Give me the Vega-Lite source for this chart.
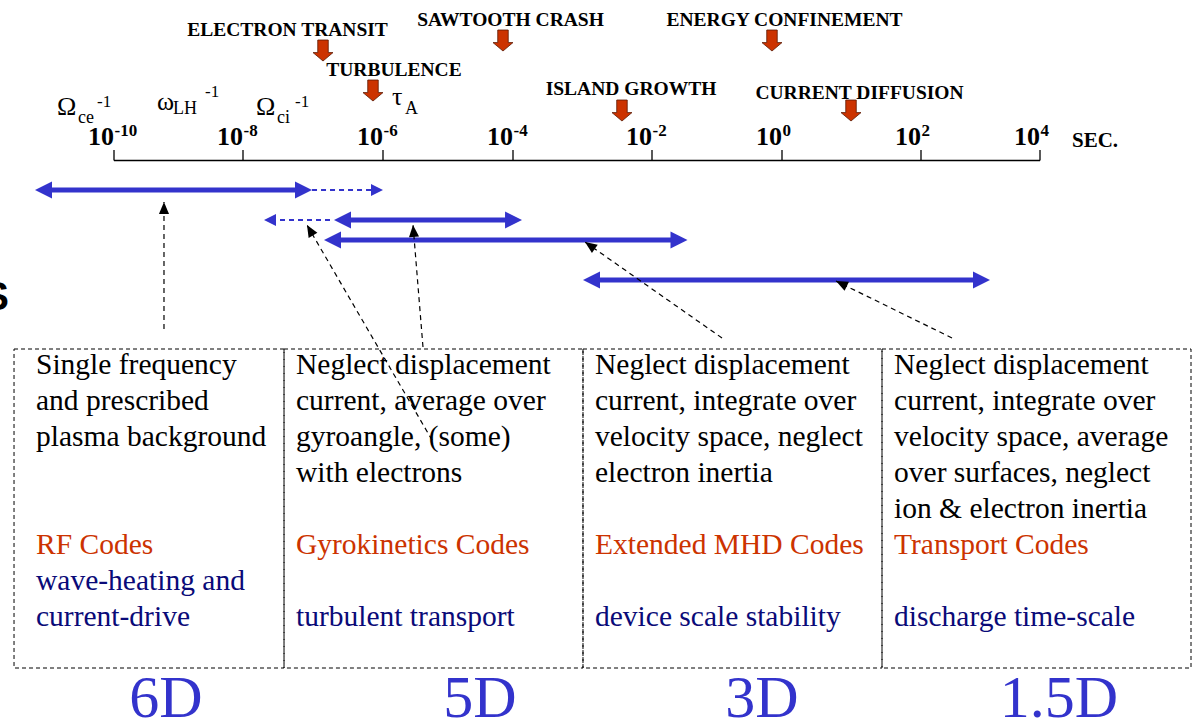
{
  "$schema": "https://vega.github.io/schema/vega-lite/v6.json",
  "width": 1195,
  "height": 722,
  "padding": 0,
  "autosize": {"type": "none"},
  "background": "white",
  "config": {"view": {"stroke": null}},
  "datasets": {
    "boxes": [
      {"x": -11.55, "x2": -7.414},
      {"x": -7.414, "x2": -2.993},
      {"x": -2.993, "x2": 1.439},
      {"x": 1.439, "x2": 6.538}
    ],
    "ticks": [
      {"x": -10, "base": "10", "sup": "-10"},
      {"x": -8, "base": "10", "sup": "-8"},
      {"x": -6, "base": "10", "sup": "-6"},
      {"x": -4, "base": "10", "sup": "-4"},
      {"x": -2, "base": "10", "sup": "-2"},
      {"x": 0, "base": "10", "sup": "0"},
      {"x": 2, "base": "10", "sup": "2"},
      {"x": 4, "base": "10", "sup": "4"}
    ],
    "unit": [{"x": 4.538, "y": 147, "text": "SEC."}],
    "events": [
      {"label": "ELECTRON TRANSIT", "lx": -7.364, "ly": 36, "ax": -6.857, "ay": 50.5},
      {"label": "TURBULENCE", "lx": -5.831, "ly": 76, "ax": -6.143, "ay": 90.5},
      {"label": "SAWTOOTH CRASH", "lx": -4.038, "ly": 26, "ax": -4.154, "ay": 40.5},
      {"label": "ENERGY CONFINEMENT", "lx": 0.036, "ly": 26, "ax": -0.154, "ay": 40.5},
      {"label": "ISLAND GROWTH", "lx": -2.302, "ly": 95, "ax": -2.432, "ay": 110.5},
      {"label": "CURRENT DIFFUSION", "lx": 1.115, "ly": 99, "ax": 0.993, "ay": 110.5}
    ],
    "greek": [
      {"x": -10.884, "y": 115, "text": "Ω", "role": "main"},
      {"x": -10.558, "y": 123, "text": "ce", "role": "sub"},
      {"x": -10.264, "y": 107, "text": "-1", "role": "sup"},
      {"x": -9.333, "y": 110, "text": "ω", "role": "main"},
      {"x": -9.085, "y": 114, "text": "LH", "role": "sub"},
      {"x": -8.589, "y": 97, "text": "-1", "role": "sup"},
      {"x": -7.814, "y": 115, "text": "Ω", "role": "main"},
      {"x": -7.514, "y": 123, "text": "ci", "role": "sub"},
      {"x": -7.257, "y": 107, "text": "-1", "role": "sup"},
      {"x": -5.862, "y": 105, "text": "τ", "role": "main"},
      {"x": -5.662, "y": 114, "text": "A", "role": "sub"}
    ],
    "blueLines": [
      {"x": -11.105, "x2": -7.134, "y": 190, "kind": "solid"},
      {"x": -6.58, "x2": -3.99, "y": 220, "kind": "solid"},
      {"x": -6.723, "x2": -1.574, "y": 240, "kind": "solid"},
      {"x": -2.873, "x2": 3.03, "y": 280, "kind": "solid"},
      {"x": -7.014, "x2": -6.1, "y": 190, "kind": "dashed"},
      {"x": -7.6, "x2": -6.7, "y": 220, "kind": "dashed"}
    ],
    "blueHeads": [
      {"x": -11.225, "y": 190, "dir": "L", "kind": "solid"},
      {"x": -7.014, "y": 190, "dir": "R", "kind": "solid"},
      {"x": -6.7, "y": 220, "dir": "L", "kind": "solid"},
      {"x": -3.87, "y": 220, "dir": "R", "kind": "solid"},
      {"x": -6.843, "y": 240, "dir": "L", "kind": "solid"},
      {"x": -1.454, "y": 240, "dir": "R", "kind": "solid"},
      {"x": -2.993, "y": 280, "dir": "L", "kind": "solid"},
      {"x": 3.16, "y": 280, "dir": "R", "kind": "solid"},
      {"x": -6.0, "y": 190, "dir": "R", "kind": "dashed"},
      {"x": -7.7, "y": 220, "dir": "L", "kind": "dashed"}
    ],
    "pointers": [
      {"tx": -9.225, "ty": 329, "hx": -9.225, "hy": 202, "angle": 0},
      {"tx": -5.246, "ty": 440, "hx": -7.086, "hy": 225, "angle": 329.8},
      {"tx": -5.385, "ty": 347, "hx": -5.538, "hy": 225, "angle": 355.3},
      {"tx": -0.923, "ty": 338, "hx": -2.964, "hy": 242, "angle": 305},
      {"tx": 2.521, "ty": 338, "hx": 0.777, "hy": 281, "angle": 296}
    ],
    "boxText": [
      {"x": -11.209, "y": 374, "text": "Single frequency", "c": "k"},
      {"x": -11.209, "y": 410, "text": "and prescribed", "c": "k"},
      {"x": -11.209, "y": 446, "text": "plasma background", "c": "k"},
      {"x": -11.209, "y": 554, "text": "RF Codes", "c": "o"},
      {"x": -11.209, "y": 590, "text": "wave-heating and", "c": "n"},
      {"x": -11.209, "y": 626, "text": "current-drive", "c": "n"},
      {"x": -7.243, "y": 374, "text": "Neglect displacement", "c": "k"},
      {"x": -7.243, "y": 410, "text": "current, average over", "c": "k"},
      {"x": -7.243, "y": 446, "text": "gyroangle,  (some)", "c": "k"},
      {"x": -7.243, "y": 482, "text": "with electrons", "c": "k"},
      {"x": -7.243, "y": 554, "text": "Gyrokinetics Codes", "c": "o"},
      {"x": -7.243, "y": 626, "text": "turbulent transport", "c": "n"},
      {"x": -2.82, "y": 374, "text": "Neglect displacement", "c": "k"},
      {"x": -2.82, "y": 410, "text": "current, integrate over", "c": "k"},
      {"x": -2.82, "y": 446, "text": "velocity space, neglect", "c": "k"},
      {"x": -2.82, "y": 482, "text": "electron inertia", "c": "k"},
      {"x": -2.82, "y": 554, "text": "Extended MHD Codes", "c": "o"},
      {"x": -2.82, "y": 626, "text": "device scale stability", "c": "n"},
      {"x": 1.612, "y": 374, "text": "Neglect displacement", "c": "k"},
      {"x": 1.612, "y": 410, "text": "current, integrate over", "c": "k"},
      {"x": 1.612, "y": 446, "text": "velocity space, average", "c": "k"},
      {"x": 1.612, "y": 482, "text": "over surfaces, neglect", "c": "k"},
      {"x": 1.612, "y": 518, "text": "ion & electron inertia", "c": "k"},
      {"x": 1.612, "y": 554, "text": "Transport Codes", "c": "o"},
      {"x": 1.612, "y": 626, "text": "discharge time-scale", "c": "n"}
    ],
    "dims": [
      {"x": -9.194, "text": "6D"},
      {"x": -4.508, "text": "5D"},
      {"x": -0.308, "text": "3D"},
      {"x": 4.319, "text": "1.5D"}
    ],
    "stray": [{"x": -11.628, "y": 310, "text": "S"}]
  },
  "layer": [
    {
      "data": {"name": "boxes"},
      "mark": {"type": "rect", "fill": "transparent", "stroke": "black", "strokeWidth": 1, "strokeDash": [4, 3]},
      "encoding": {
        "x": {"field": "x", "type": "quantitative", "scale": {"domain": [-10, -8, -6, -4, -2, 0, 2, 4], "range": [114, 243, 383, 513, 652, 782, 921, 1040], "nice": false, "zero": false}, "axis": null},
        "x2": {"field": "x2"},
        "y": {"datum": 349, "type": "quantitative", "scale": {"domain": [0, 722], "range": [0, 722], "nice": false, "zero": false}, "axis": null},
        "y2": {"datum": 668}
      }
    },
    {
      "data": {"name": "ticks"},
      "mark": {"type": "rule", "color": "black", "strokeWidth": 1.3},
      "encoding": {
        "x": {"field": "x", "type": "quantitative", "scale": {"domain": [-10, -8, -6, -4, -2, 0, 2, 4], "range": [114, 243, 383, 513, 652, 782, 921, 1040], "nice": false, "zero": false}, "axis": null},
        "y": {"datum": 150, "type": "quantitative", "scale": {"domain": [0, 722], "range": [0, 722], "nice": false, "zero": false}, "axis": null},
        "y2": {"datum": 160.5}
      }
    },
    {
      "data": {"values": [{"x": -10, "x2": 4}]},
      "mark": {"type": "rule", "color": "black", "strokeWidth": 1.5},
      "encoding": {
        "x": {"field": "x", "type": "quantitative", "scale": {"domain": [-10, -8, -6, -4, -2, 0, 2, 4], "range": [114, 243, 383, 513, 652, 782, 921, 1040], "nice": false, "zero": false}, "axis": null},
        "x2": {"field": "x2"},
        "y": {"datum": 160.5, "type": "quantitative", "scale": {"domain": [0, 722], "range": [0, 722], "nice": false, "zero": false}, "axis": null}
      }
    },
    {
      "data": {"name": "ticks"},
      "mark": {"type": "text", "align": "right", "baseline": "alphabetic", "font": "Liberation Serif", "fontWeight": "bold", "fontSize": 26, "color": "black"},
      "encoding": {
        "x": {"field": "x", "type": "quantitative", "scale": {"domain": [-10, -8, -6, -4, -2, 0, 2, 4], "range": [114, 243, 383, 513, 652, 782, 921, 1040], "nice": false, "zero": false}, "axis": null},
        "y": {"datum": 145, "type": "quantitative", "scale": {"domain": [0, 722], "range": [0, 722], "nice": false, "zero": false}, "axis": null},
        "text": {"field": "base"}
      }
    },
    {
      "data": {"name": "ticks"},
      "mark": {"type": "text", "align": "left", "baseline": "alphabetic", "font": "Liberation Serif", "fontWeight": "bold", "fontSize": 17, "color": "black", "dx": 0.5},
      "encoding": {
        "x": {"field": "x", "type": "quantitative", "scale": {"domain": [-10, -8, -6, -4, -2, 0, 2, 4], "range": [114, 243, 383, 513, 652, 782, 921, 1040], "nice": false, "zero": false}, "axis": null},
        "y": {"datum": 136, "type": "quantitative", "scale": {"domain": [0, 722], "range": [0, 722], "nice": false, "zero": false}, "axis": null},
        "text": {"field": "sup"}
      }
    },
    {
      "data": {"name": "unit"},
      "mark": {"type": "text", "align": "left", "baseline": "alphabetic", "font": "Liberation Serif", "fontWeight": "bold", "fontSize": 21, "color": "black"},
      "encoding": {
        "x": {"field": "x", "type": "quantitative", "scale": {"domain": [-10, -8, -6, -4, -2, 0, 2, 4], "range": [114, 243, 383, 513, 652, 782, 921, 1040], "nice": false, "zero": false}, "axis": null},
        "y": {"field": "y", "type": "quantitative", "scale": {"domain": [0, 722], "range": [0, 722], "nice": false, "zero": false}, "axis": null},
        "text": {"field": "text"}
      }
    },
    {
      "data": {"name": "events"},
      "mark": {"type": "point", "shape": "M-0.5,-1L0.5,-1L0.5,0.2L0.95,0.2L0,1L-0.95,0.2L-0.5,0.2Z", "size": 441, "filled": true, "fill": "#CC3300", "stroke": "#5a1800", "strokeWidth": 0.8, "opacity": 1},
      "encoding": {
        "x": {"field": "ax", "type": "quantitative", "scale": {"domain": [-10, -8, -6, -4, -2, 0, 2, 4], "range": [114, 243, 383, 513, 652, 782, 921, 1040], "nice": false, "zero": false}, "axis": null},
        "y": {"field": "ay", "type": "quantitative", "scale": {"domain": [0, 722], "range": [0, 722], "nice": false, "zero": false}, "axis": null}
      }
    },
    {
      "data": {"name": "events"},
      "mark": {"type": "text", "align": "center", "baseline": "alphabetic", "font": "Liberation Serif", "fontWeight": "bold", "fontSize": 19.5, "color": "black"},
      "encoding": {
        "x": {"field": "lx", "type": "quantitative", "scale": {"domain": [-10, -8, -6, -4, -2, 0, 2, 4], "range": [114, 243, 383, 513, 652, 782, 921, 1040], "nice": false, "zero": false}, "axis": null},
        "y": {"field": "ly", "type": "quantitative", "scale": {"domain": [0, 722], "range": [0, 722], "nice": false, "zero": false}, "axis": null},
        "text": {"field": "label"}
      }
    },
    {
      "data": {"name": "greek"},
      "transform": [{"filter": "datum.role === 'main'"}],
      "mark": {"type": "text", "align": "left", "baseline": "alphabetic", "font": "Liberation Serif", "fontSize": 26, "color": "black"},
      "encoding": {
        "x": {"field": "x", "type": "quantitative", "scale": {"domain": [-10, -8, -6, -4, -2, 0, 2, 4], "range": [114, 243, 383, 513, 652, 782, 921, 1040], "nice": false, "zero": false}, "axis": null},
        "y": {"field": "y", "type": "quantitative", "scale": {"domain": [0, 722], "range": [0, 722], "nice": false, "zero": false}, "axis": null},
        "text": {"field": "text"}
      }
    },
    {
      "data": {"name": "greek"},
      "transform": [{"filter": "datum.role === 'sub'"}],
      "mark": {"type": "text", "align": "left", "baseline": "alphabetic", "font": "Liberation Serif", "fontSize": 18, "color": "black"},
      "encoding": {
        "x": {"field": "x", "type": "quantitative", "scale": {"domain": [-10, -8, -6, -4, -2, 0, 2, 4], "range": [114, 243, 383, 513, 652, 782, 921, 1040], "nice": false, "zero": false}, "axis": null},
        "y": {"field": "y", "type": "quantitative", "scale": {"domain": [0, 722], "range": [0, 722], "nice": false, "zero": false}, "axis": null},
        "text": {"field": "text"}
      }
    },
    {
      "data": {"name": "greek"},
      "transform": [{"filter": "datum.role === 'sup'"}],
      "mark": {"type": "text", "align": "left", "baseline": "alphabetic", "font": "Liberation Serif", "fontSize": 17, "color": "black"},
      "encoding": {
        "x": {"field": "x", "type": "quantitative", "scale": {"domain": [-10, -8, -6, -4, -2, 0, 2, 4], "range": [114, 243, 383, 513, 652, 782, 921, 1040], "nice": false, "zero": false}, "axis": null},
        "y": {"field": "y", "type": "quantitative", "scale": {"domain": [0, 722], "range": [0, 722], "nice": false, "zero": false}, "axis": null},
        "text": {"field": "text"}
      }
    },
    {
      "data": {"name": "blueLines"},
      "transform": [{"filter": "datum.kind === 'solid'"}],
      "mark": {"type": "rule", "color": "#3333CC", "strokeWidth": 5},
      "encoding": {
        "x": {"field": "x", "type": "quantitative", "scale": {"domain": [-10, -8, -6, -4, -2, 0, 2, 4], "range": [114, 243, 383, 513, 652, 782, 921, 1040], "nice": false, "zero": false}, "axis": null},
        "x2": {"field": "x2"},
        "y": {"field": "y", "type": "quantitative", "scale": {"domain": [0, 722], "range": [0, 722], "nice": false, "zero": false}, "axis": null}
      }
    },
    {
      "data": {"name": "blueLines"},
      "transform": [{"filter": "datum.kind === 'dashed'"}],
      "mark": {"type": "rule", "color": "#3333CC", "strokeWidth": 2, "strokeDash": [5, 4]},
      "encoding": {
        "x": {"field": "x", "type": "quantitative", "scale": {"domain": [-10, -8, -6, -4, -2, 0, 2, 4], "range": [114, 243, 383, 513, 652, 782, 921, 1040], "nice": false, "zero": false}, "axis": null},
        "x2": {"field": "x2"},
        "y": {"field": "y", "type": "quantitative", "scale": {"domain": [0, 722], "range": [0, 722], "nice": false, "zero": false}, "axis": null}
      }
    },
    {
      "data": {"name": "blueHeads"},
      "transform": [{"filter": "datum.kind === 'solid'"}],
      "mark": {"type": "point", "size": 1156, "filled": true, "color": "#3333CC", "opacity": 1, "strokeWidth": 0},
      "encoding": {
        "x": {"field": "x", "type": "quantitative", "scale": {"domain": [-10, -8, -6, -4, -2, 0, 2, 4], "range": [114, 243, 383, 513, 652, 782, 921, 1040], "nice": false, "zero": false}, "axis": null},
        "y": {"field": "y", "type": "quantitative", "scale": {"domain": [0, 722], "range": [0, 722], "nice": false, "zero": false}, "axis": null},
        "shape": {"field": "dir", "type": "nominal", "scale": {"domain": ["L", "R"], "range": ["M0,0L1,-0.5L1,0.5Z", "M0,0L-1,-0.5L-1,0.5Z"]}, "legend": null}
      }
    },
    {
      "data": {"name": "blueHeads"},
      "transform": [{"filter": "datum.kind === 'dashed'"}],
      "mark": {"type": "point", "size": 576, "filled": true, "color": "#3333CC", "opacity": 1, "strokeWidth": 0},
      "encoding": {
        "x": {"field": "x", "type": "quantitative", "scale": {"domain": [-10, -8, -6, -4, -2, 0, 2, 4], "range": [114, 243, 383, 513, 652, 782, 921, 1040], "nice": false, "zero": false}, "axis": null},
        "y": {"field": "y", "type": "quantitative", "scale": {"domain": [0, 722], "range": [0, 722], "nice": false, "zero": false}, "axis": null},
        "shape": {"field": "dir", "type": "nominal", "scale": {"domain": ["L", "R"], "range": ["M0,0L1,-0.5L1,0.5Z", "M0,0L-1,-0.5L-1,0.5Z"]}, "legend": null}
      }
    },
    {
      "data": {"name": "pointers"},
      "mark": {"type": "rule", "color": "black", "strokeWidth": 1.2, "strokeDash": [5, 4]},
      "encoding": {
        "x": {"field": "tx", "type": "quantitative", "scale": {"domain": [-10, -8, -6, -4, -2, 0, 2, 4], "range": [114, 243, 383, 513, 652, 782, 921, 1040], "nice": false, "zero": false}, "axis": null},
        "y": {"field": "ty", "type": "quantitative", "scale": {"domain": [0, 722], "range": [0, 722], "nice": false, "zero": false}, "axis": null},
        "x2": {"field": "hx"},
        "y2": {"field": "hy"}
      }
    },
    {
      "data": {"name": "pointers"},
      "mark": {"type": "point", "shape": "M0,0L0.42,1L-0.42,1Z", "size": 576, "filled": true, "color": "black", "opacity": 1, "strokeWidth": 0},
      "encoding": {
        "x": {"field": "hx", "type": "quantitative", "scale": {"domain": [-10, -8, -6, -4, -2, 0, 2, 4], "range": [114, 243, 383, 513, 652, 782, 921, 1040], "nice": false, "zero": false}, "axis": null},
        "y": {"field": "hy", "type": "quantitative", "scale": {"domain": [0, 722], "range": [0, 722], "nice": false, "zero": false}, "axis": null},
        "angle": {"field": "angle", "type": "quantitative", "scale": null}
      }
    },
    {
      "data": {"name": "boxText"},
      "mark": {"type": "text", "align": "left", "baseline": "alphabetic", "font": "Liberation Serif", "fontSize": 29.5},
      "encoding": {
        "x": {"field": "x", "type": "quantitative", "scale": {"domain": [-10, -8, -6, -4, -2, 0, 2, 4], "range": [114, 243, 383, 513, 652, 782, 921, 1040], "nice": false, "zero": false}, "axis": null},
        "y": {"field": "y", "type": "quantitative", "scale": {"domain": [0, 722], "range": [0, 722], "nice": false, "zero": false}, "axis": null},
        "text": {"field": "text"},
        "color": {"field": "c", "type": "nominal", "scale": {"domain": ["k", "o", "n"], "range": ["#000000", "#CC3300", "#0A0A78"]}, "legend": null}
      }
    },
    {
      "data": {"name": "dims"},
      "mark": {"type": "text", "align": "center", "baseline": "alphabetic", "font": "Liberation Serif", "fontSize": 60, "color": "#3333CC"},
      "encoding": {
        "x": {"field": "x", "type": "quantitative", "scale": {"domain": [-10, -8, -6, -4, -2, 0, 2, 4], "range": [114, 243, 383, 513, 652, 782, 921, 1040], "nice": false, "zero": false}, "axis": null},
        "y": {"datum": 717, "type": "quantitative", "scale": {"domain": [0, 722], "range": [0, 722], "nice": false, "zero": false}, "axis": null},
        "text": {"field": "text"}
      }
    },
    {
      "data": {"name": "stray"},
      "mark": {"type": "text", "align": "right", "baseline": "alphabetic", "font": "Liberation Sans", "fontWeight": "bold", "fontSize": 40, "color": "black"},
      "encoding": {
        "x": {"field": "x", "type": "quantitative", "scale": {"domain": [-10, -8, -6, -4, -2, 0, 2, 4], "range": [114, 243, 383, 513, 652, 782, 921, 1040], "nice": false, "zero": false}, "axis": null},
        "y": {"field": "y", "type": "quantitative", "scale": {"domain": [0, 722], "range": [0, 722], "nice": false, "zero": false}, "axis": null},
        "text": {"field": "text"}
      }
    }
  ]
}
